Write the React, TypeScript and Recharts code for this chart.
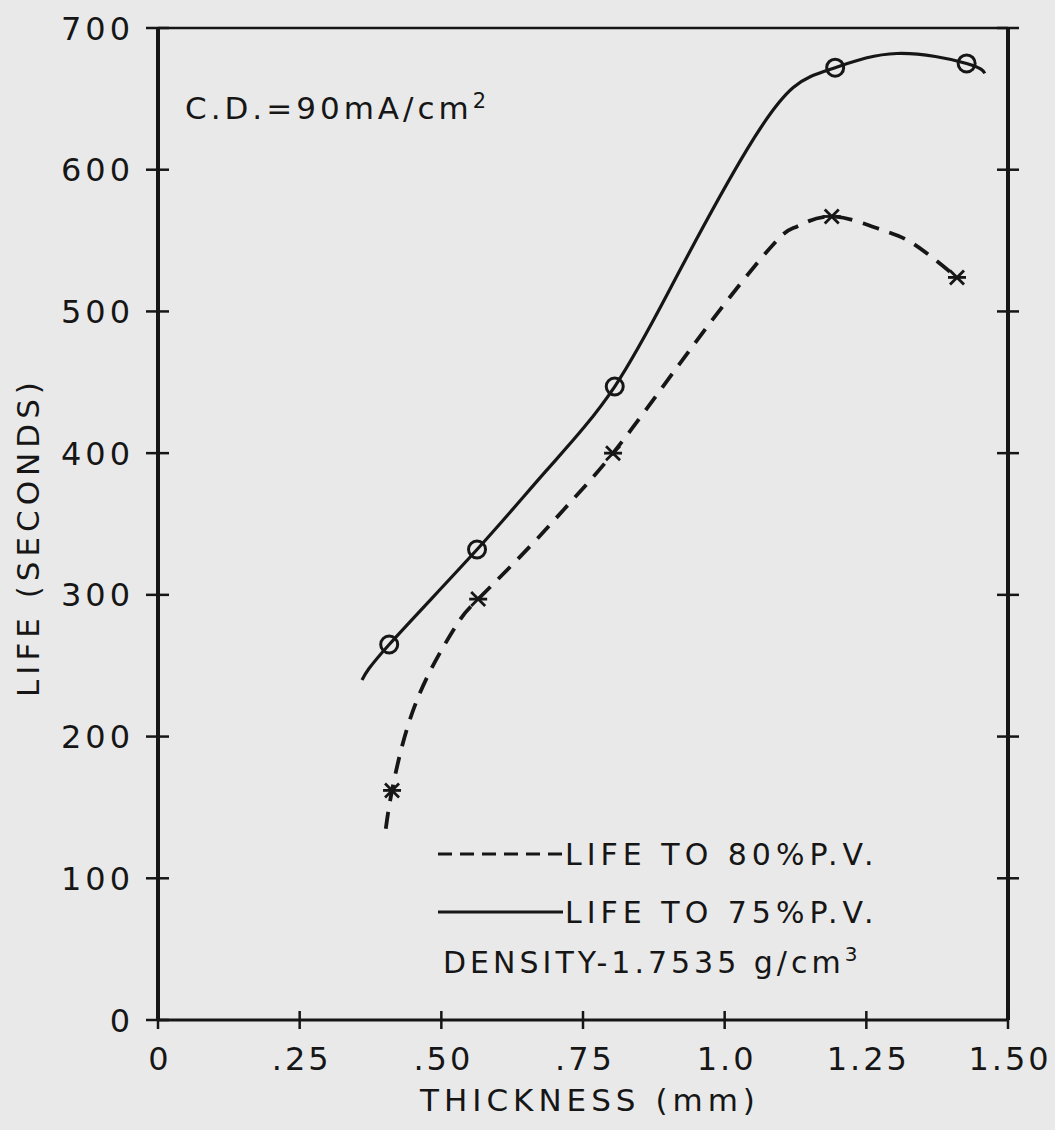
import { ComposedChart, Line, Scatter, XAxis, YAxis, Legend, Label } from 'recharts'

// life to 75% P.V. (solid curve)
const thickness75 = [0.36, 0.408, 0.563, 0.686, 0.806, 0.921, 1.039, 1.121, 1.195, 1.304, 1.427, 1.459]
const life75 = [240, 265, 332, 388, 447, 529, 614, 658, 672, 682, 675, 668]

// life to 80% P.V. (dashed curve)
const thickness80 = [0.402, 0.413, 0.439, 0.48, 0.529, 0.565, 0.656, 0.727, 0.803, 0.891, 0.939, 1.009, 1.092, 1.128, 1.189, 1.274, 1.332, 1.41]
const life80 = [135, 162, 205, 246, 280, 297, 334, 365, 400, 447, 473, 510, 550, 560, 567, 558, 548, 524]

// measured points (markers)
const mark75X = [0.408, 0.563, 0.806, 1.195, 1.427]
const mark75Y = [265, 332, 447, 672, 675]
const mark80X = [0.413, 0.565, 0.803, 1.189, 1.41]
const mark80Y = [162, 297, 400, 567, 524]

const xTicks = [0, 0.25, 0.5, 0.75, 1.0, 1.25, 1.5]
const xTickLabels = ['0', '.25', '.50', '.75', '1.0', '1.25', '1.50']
const yTicks = [0, 100, 200, 300, 400, 500, 600, 700]

const ink = '#161616'
const font = '"DejaVu Sans", sans-serif'

const toPoints = (xs: number[], ys: number[]) => xs.map((x, i) => ({ x, y: ys[i] }))

const curve75 = toPoints(thickness75, life75)
const curve80 = toPoints(thickness80, life80)
const marks75 = toPoints(mark75X, mark75Y)
const marks80 = toPoints(mark80X, mark80Y)

function LeftTick({ x, y, payload }: any) {
  return (
    <g>
      <line x1={x - 12} x2={x + 11} y1={y} y2={y} stroke={ink} strokeWidth={2.5} />
      <text x={x - 24} y={y} dy="0.36em" textAnchor="end" fill={ink} fontSize={32} fontFamily={font} letterSpacing={4}>
        {payload.value}
      </text>
    </g>
  )
}

function RightTick({ x, y, payload }: any) {
  if (payload.value === 0) return null
  return <line x1={x - 11} x2={x + 11} y1={y} y2={y} stroke={ink} strokeWidth={2.5} />
}

function BottomTick({ x, y, payload, index }: any) {
  return (
    <g>
      <line x1={x} x2={x} y1={y - 9} y2={y + 9} stroke={ink} strokeWidth={2.5} />
      <text x={x + 2} y={y + 38} dy="0.36em" textAnchor="middle" fill={ink} fontSize={32} fontFamily={font} letterSpacing={3}>
        {xTickLabels[index] ?? payload.value}
      </text>
    </g>
  )
}

function TopTick({ x, y, payload }: any) {
  if (payload.value === 0) return null
  return <line x1={x} x2={x} y1={y - 11} y2={y + 9} stroke={ink} strokeWidth={2.5} />
}

function CircleMark({ cx, cy }: any) {
  return <circle cx={cx} cy={cy} r={8.5} fill="none" stroke={ink} strokeWidth={3} />
}

function StarMark({ cx, cy }: any) {
  const d = 7
  return (
    <g stroke={ink} strokeWidth={2.8}>
      <line x1={cx - d} y1={cy - d} x2={cx + d} y2={cy + d} />
      <line x1={cx - d} y1={cy + d} x2={cx + d} y2={cy - d} />
      <line x1={cx - d - 2} y1={cy} x2={cx + d + 2} y2={cy} />
    </g>
  )
}

function LegendBox() {
  const text = { fill: ink, fontSize: 30, fontFamily: font, letterSpacing: 5 }
  return (
    <svg width={520} height={160}>
      <line x1={8} x2={133} y1={26} y2={26} stroke={ink} strokeWidth={2.8} strokeDasharray="14 8" />
      <text x={135} y={26} dy="0.36em" {...text}>LIFE TO 80%P.V.</text>
      <line x1={8} x2={133} y1={84} y2={84} stroke={ink} strokeWidth={2.8} />
      <text x={135} y={84} dy="0.36em" {...text}>LIFE TO 75%P.V.</text>
      <text x={13} y={134} dy="0.36em" {...text} letterSpacing={4}>
        DENSITY-1.7535 g/cm<tspan dy="-12" fontSize={20}>3</tspan>
      </text>
    </svg>
  )
}

export default function App() {
  return (
    <div style={{ width: 1055, height: 1130, background: '#e9e9e9', position: 'relative', overflow: 'hidden' }}>
      <style>{'body{margin:0}'}</style>
      <ComposedChart
        width={1055}
        height={1130}
        margin={{ top: 8, right: 27, bottom: 50, left: 88 }}
      >
        <XAxis
          xAxisId="b"
          dataKey="x"
          type="number"
          domain={[0, 1.5]}
          allowDataOverflow
          ticks={xTicks}
          interval={0}
          height={60}
          tickSize={0}
          tickMargin={0}
          tickLine={false}
          tick={<BottomTick />}
          axisLine={{ stroke: ink, strokeWidth: 3 }}
        >
          <Label
            content={({ viewBox }: any) => (
              <text
                x={viewBox.x + viewBox.width / 2 + 7}
                y={viewBox.y + 80}
                dy="0.36em"
                textAnchor="middle"
                fill={ink}
                fontSize={31}
                fontFamily={font}
                letterSpacing={5}
              >
                THICKNESS (mm)
              </text>
            )}
          />
        </XAxis>
        <XAxis
          xAxisId="t"
          orientation="top"
          type="number"
          domain={[0, 1.5]}
          allowDataOverflow
          ticks={xTicks}
          interval={0}
          height={20}
          tickSize={0}
          tickMargin={0}
          tickLine={false}
          tick={<TopTick />}
          axisLine={{ stroke: ink, strokeWidth: 2.5 }}
        />
        <YAxis
          yAxisId="l"
          type="number"
          domain={[0, 700]}
          allowDataOverflow
          ticks={yTicks}
          interval={0}
          width={70}
          tickSize={0}
          tickMargin={0}
          tickLine={false}
          tick={<LeftTick />}
          axisLine={{ stroke: ink, strokeWidth: 4 }}
        >
          <Label
            content={({ viewBox }: any) => {
              const cx = 28
              const cy = viewBox.y + viewBox.height / 2 + 13
              return (
                <text
                  x={cx}
                  y={cy}
                  dy="0.36em"
                  textAnchor="middle"
                  transform={`rotate(-90 ${cx} ${cy})`}
                  fill={ink}
                  fontSize={31}
                  fontFamily={font}
                  letterSpacing={5}
                >
                  LIFE (SECONDS)
                </text>
              )
            }}
          />
        </YAxis>
        <YAxis
          yAxisId="r"
          orientation="right"
          type="number"
          domain={[0, 700]}
          allowDataOverflow
          ticks={yTicks}
          interval={0}
          width={20}
          tickSize={0}
          tickMargin={0}
          tickLine={false}
          tick={<RightTick />}
          axisLine={{ stroke: ink, strokeWidth: 4 }}
        />
        <Legend
          layout="horizontal"
          verticalAlign="middle"
          align="center"
          wrapperStyle={{ left: 430, top: 828, width: 520 }}
          content={() => <LegendBox />}
        />
        <Line
          xAxisId="b"
          yAxisId="l"
          data={curve75}
          dataKey="y"
          type="natural"
          stroke={ink}
          strokeWidth={3.2}
          dot={false}
          activeDot={false}
          legendType="none"
          isAnimationActive={false}
        />
        <Line
          xAxisId="b"
          yAxisId="l"
          data={curve80}
          dataKey="y"
          type="natural"
          stroke={ink}
          strokeWidth={3.8}
          strokeDasharray="17 11"
          dot={false}
          activeDot={false}
          legendType="none"
          isAnimationActive={false}
        />
        <Scatter xAxisId="b" yAxisId="l" data={marks75} dataKey="y" shape={<CircleMark />} isAnimationActive={false} />
        <Scatter xAxisId="b" yAxisId="l" data={marks80} dataKey="y" shape={<StarMark />} isAnimationActive={false} />
      </ComposedChart>
      <div
        style={{
          position: 'absolute',
          left: 185,
          top: 83,
          fontFamily: font,
          fontSize: 31,
          letterSpacing: 4,
          color: ink,
          lineHeight: '36px',
        }}
      >
        C.D.=90mA/cm<sup style={{ fontSize: 21 }}>2</sup>
      </div>
    </div>
  )
}
